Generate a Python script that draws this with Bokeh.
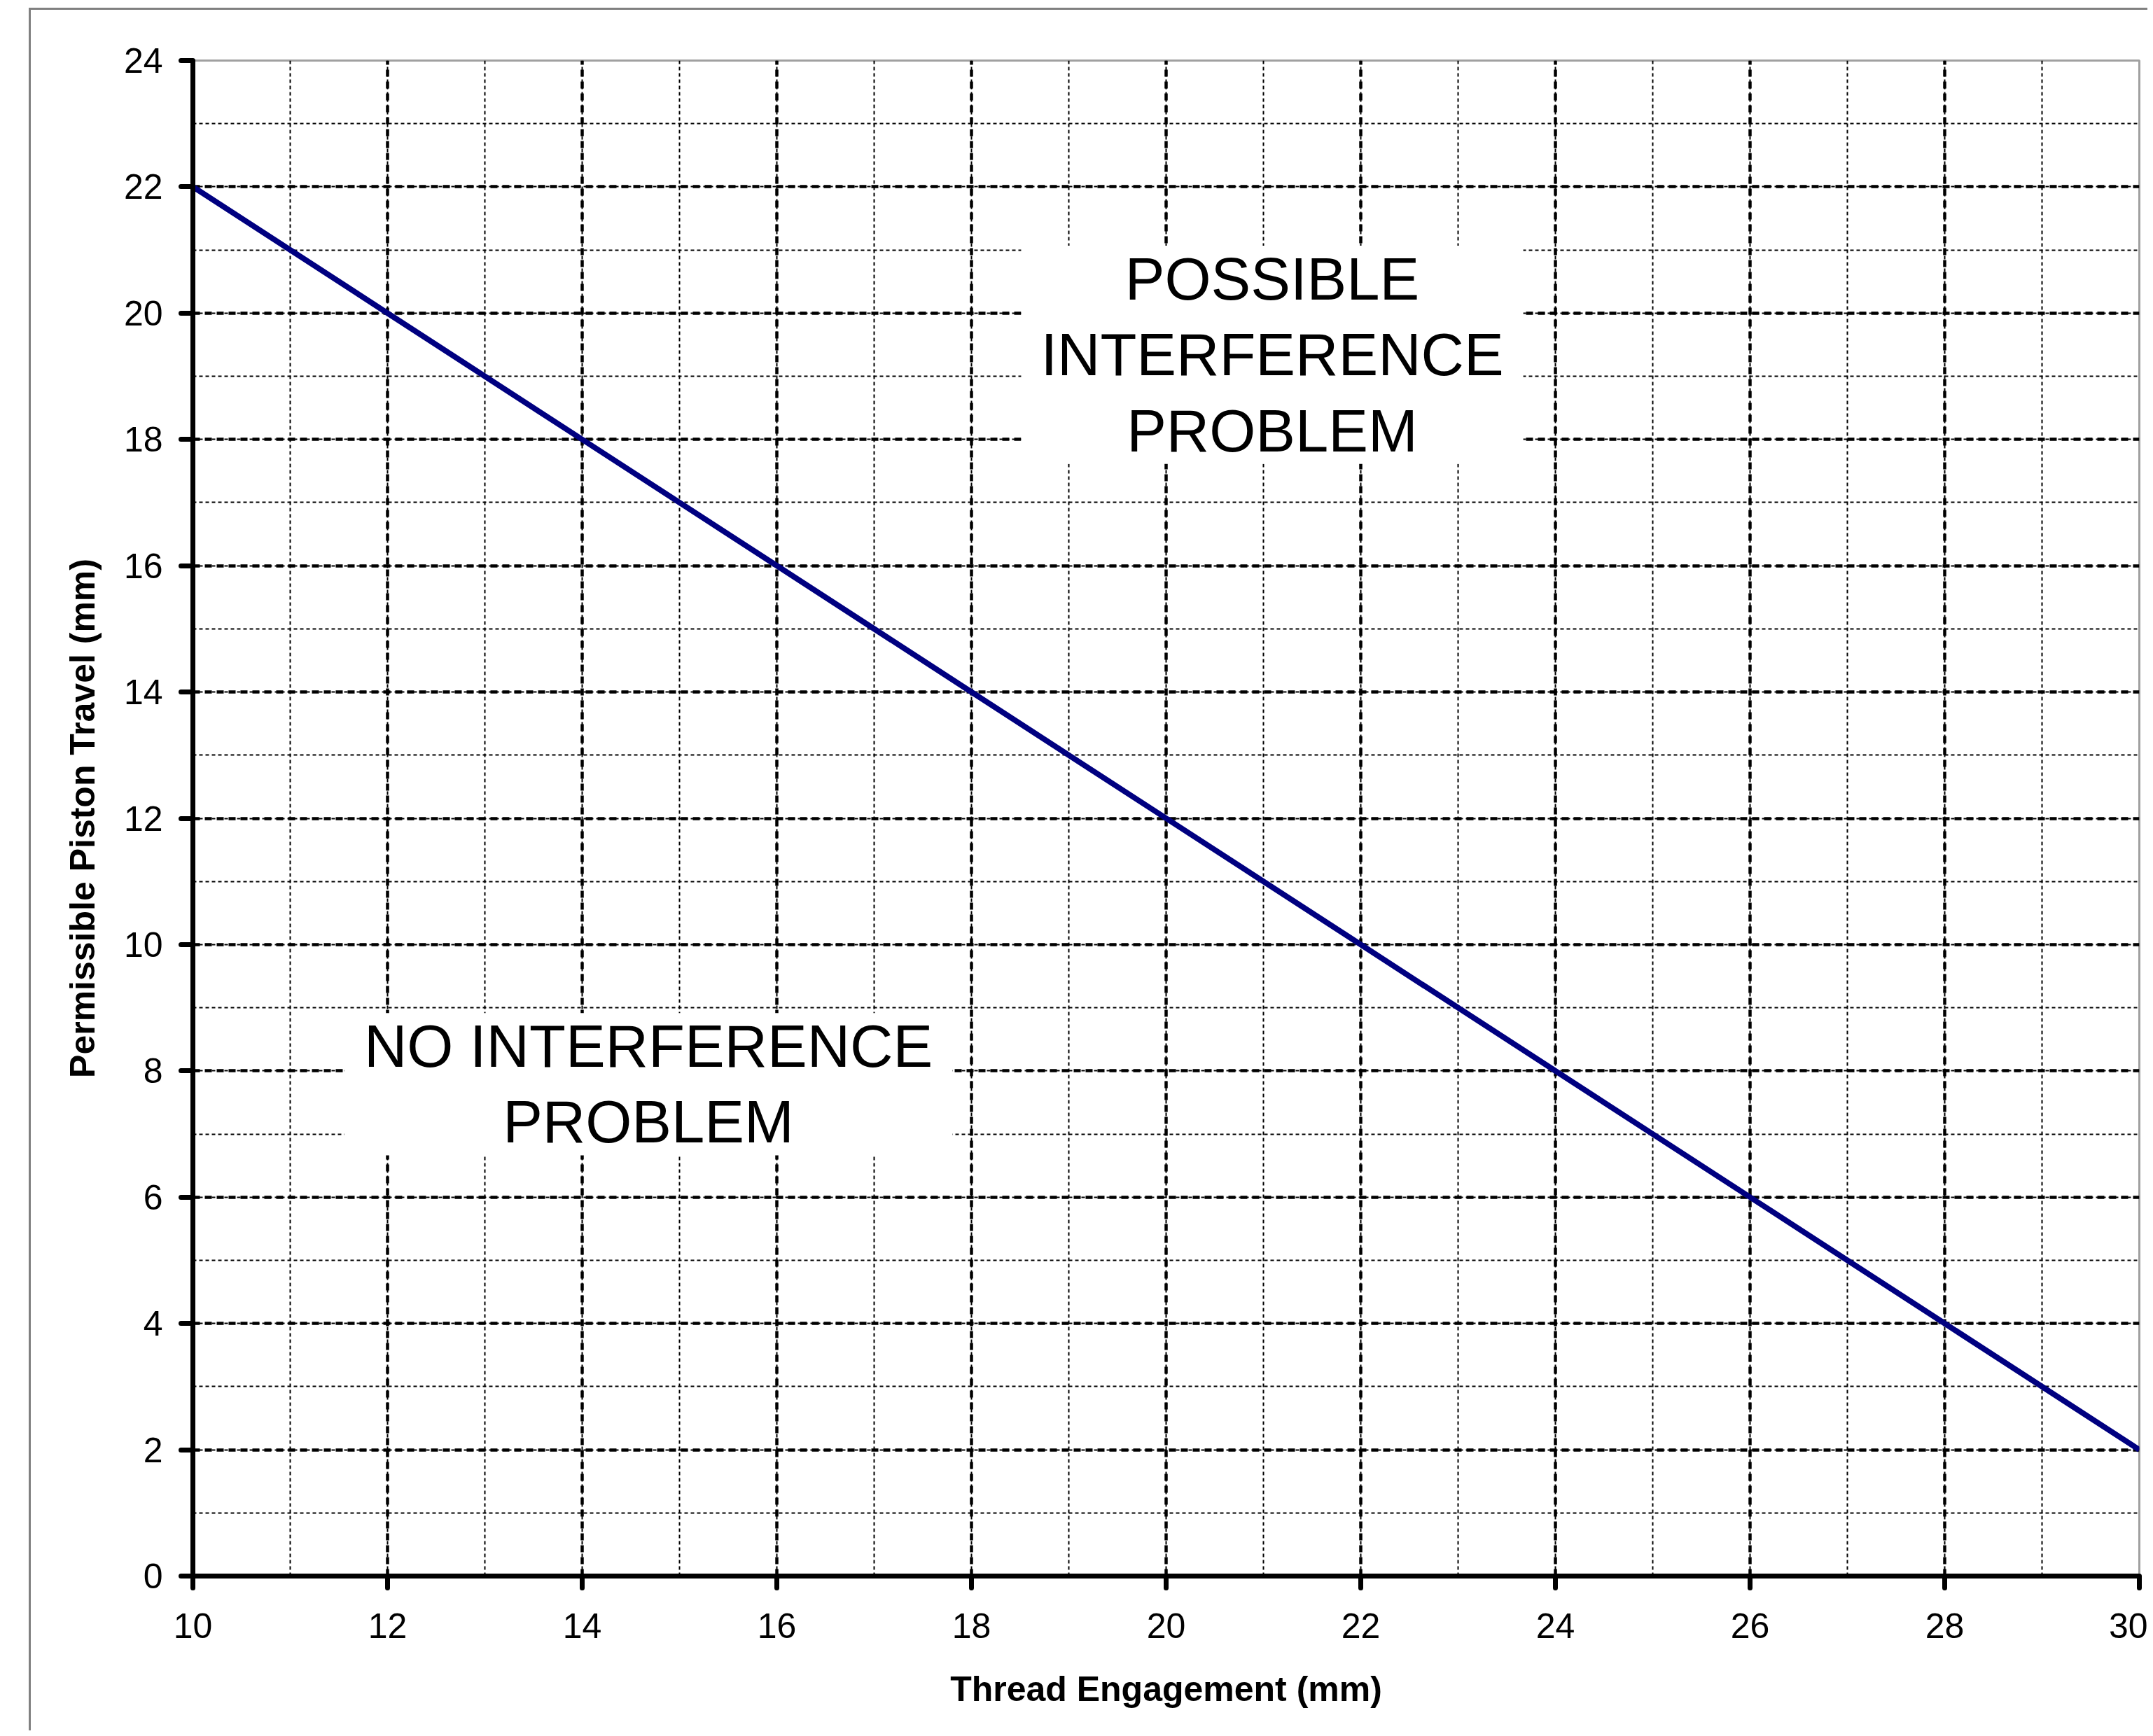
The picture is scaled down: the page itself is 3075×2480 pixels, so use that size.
from bokeh.plotting import figure
from bokeh.models import Range1d, SingleIntervalTicker, Label
from bokeh.embed import file_html
from bokeh.resources import INLINE

# ---- data ----
thread_engagement = [10, 12, 14, 16, 18, 20, 22, 24, 26, 28, 30]
piston_travel = [22, 20, 18, 16, 14, 12, 10, 8, 6, 4, 2]

x_limits = [10, 30]
y_limits = [0, 24]

region_texts = ["POSSIBLE\nINTERFERENCE\nPROBLEM", "NO INTERFERENCE\nPROBLEM"]
region_x = [21.09, 14.68]
region_y = [19.34, 7.79]

FONT = "Liberation Sans"

p = figure(
    width=3067, height=2472,
    x_range=Range1d(*x_limits), y_range=Range1d(*y_limits),
    output_backend="svg", toolbar_location=None,
    min_border_left=275, min_border_top=86, min_border_right=12, min_border_bottom=221,
    background_fill_color="white", border_fill_color=None,
)

# outer chart-area border (only left and top edges are visible in the reference)
p.styles = {
    "background": (
        "linear-gradient(#808080, #808080) 41px 11px / 3px 100% no-repeat, "
        "linear-gradient(#808080, #808080) 41px 11px / 100% 3px no-repeat, white"
    )
}

p.outline_line_color = "#a0a0a0"
p.outline_line_width = 3

p.xaxis.ticker = SingleIntervalTicker(interval=2, num_minor_ticks=2)
p.yaxis.ticker = SingleIntervalTicker(interval=2, num_minor_ticks=2)

for ax in (p.xaxis, p.yaxis):
    ax.axis_line_color = "black"
    ax.axis_line_width = 7
    ax.major_tick_line_color = "black"
    ax.major_tick_line_width = 7
    ax.major_tick_line_cap = "round"
    ax.major_tick_in = 0
    ax.major_tick_out = 17
    ax.minor_tick_line_color = None
    ax.major_label_text_font = FONT
    ax.major_label_text_font_size = "50px"
    ax.major_label_text_color = "black"
    ax.axis_label_text_font = FONT
    ax.axis_label_text_font_size = "50px"
    ax.axis_label_text_font_style = "bold"
    ax.axis_label_text_color = "black"

p.xaxis.axis_label = "Thread Engagement (mm)"
p.yaxis.axis_label = "Permissible Piston Travel (mm)"
p.xaxis.major_label_standoff = 36
p.yaxis.major_label_standoff = 26
p.xaxis.axis_label_standoff = 42
p.yaxis.axis_label_standoff = 28

for g in (p.xgrid, p.ygrid):
    g.grid_line_color = "black"
    g.grid_line_width = 4.5
    g.grid_line_dash = "10 7"
    g.minor_grid_line_color = "black"
    g.minor_grid_line_width = 2
    g.minor_grid_line_dash = "5 4"

p.line(thread_engagement, piston_travel, line_color="#000080", line_width=8)

for txt, lx, ly in zip(region_texts, region_x, region_y):
    p.add_layout(Label(
        x=lx, y=ly, text=txt,
        text_font=FONT, text_font_size="85px", text_color="black",
        text_align="center", text_baseline="middle", text_line_height=1.14,
        background_fill_color="white", padding=(28, 0),
    ))

open("out.html", "w").write(file_html(p, INLINE))
